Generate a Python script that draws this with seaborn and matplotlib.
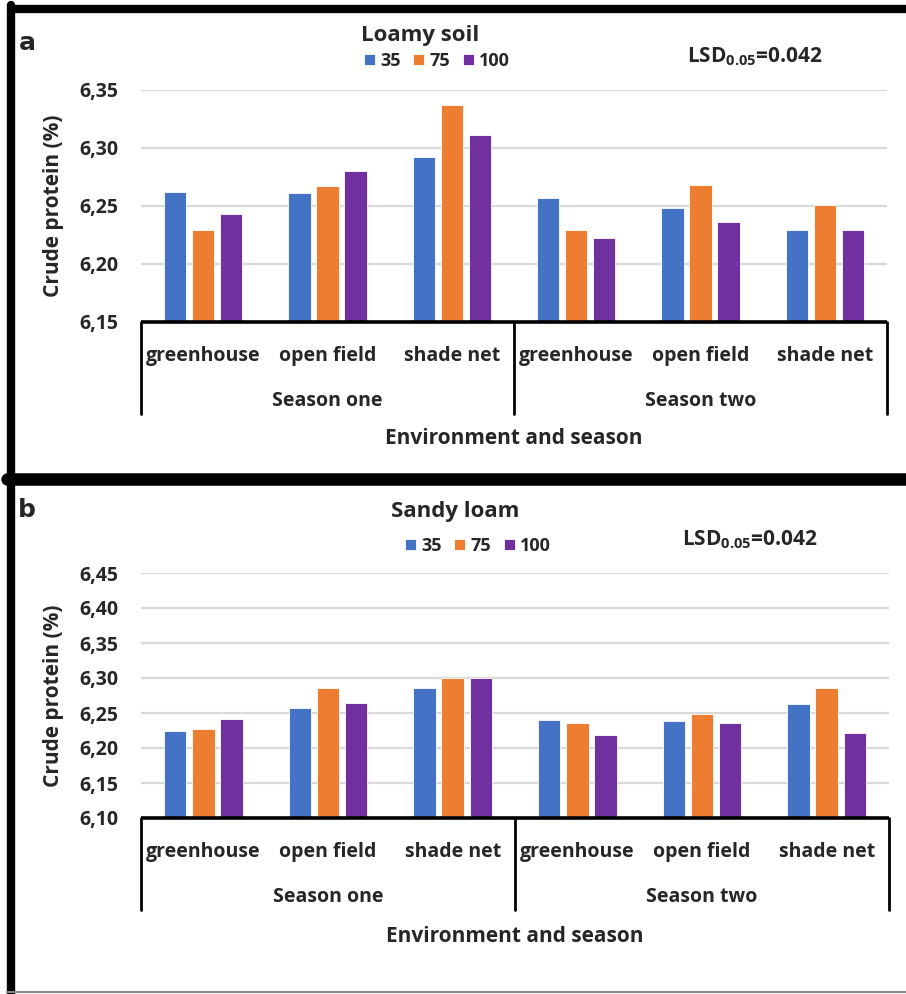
import matplotlib
matplotlib.use("Agg")
import matplotlib.pyplot as plt
from matplotlib import font_manager
from matplotlib.lines import Line2D
import seaborn as sns
import pandas as pd

# ---------------- data ----------------
environments = ["greenhouse", "open field", "shade net"]
seasons = ["Season one", "Season two"]
doses = ["35", "75", "100"]

loamy_35 = [6.262, 6.261, 6.292, 6.257, 6.248, 6.229]
loamy_75 = [6.229, 6.267, 6.337, 6.229, 6.268, 6.251]
loamy_100 = [6.243, 6.280, 6.311, 6.222, 6.236, 6.229]

sandy_35 = [6.224, 6.257, 6.286, 6.240, 6.239, 6.263]
sandy_75 = [6.227, 6.286, 6.300, 6.236, 6.248, 6.286]
sandy_100 = [6.242, 6.264, 6.300, 6.219, 6.236, 6.221]

loamy_ticks = [6.15, 6.20, 6.25, 6.30, 6.35]
sandy_ticks = [6.10, 6.15, 6.20, 6.25, 6.30, 6.35, 6.40, 6.45]

colors = ["#4472C4", "#ED7D31", "#7030A0"]

# ---------------- fonts ----------------
sns.set_style("white")
avail = {f.name for f in font_manager.fontManager.ttflist}
main_font = "Liberation Sans Narrow" if "Liberation Sans Narrow" in avail else "Open Sans"
plt.rcParams["font.family"] = [main_font, "DejaVu Sans"]
plt.rcParams["font.weight"] = "bold"
plt.rcParams["mathtext.fontset"] = "custom"
plt.rcParams["mathtext.rm"] = main_font
plt.rcParams["mathtext.bf"] = main_font + ":bold"

W, H = 906, 994
fig = plt.figure(figsize=(W / 100, H / 100), dpi=100)


def fx(px):
    return px / W


def fy(py):
    return 1 - py / H


def make_df(v35, v75, v100):
    rows = []
    keys = [f"{s}|{e}" for s in seasons for e in environments]
    for d, vals in zip(doses, [v35, v75, v100]):
        for k, v in zip(keys, vals):
            rows.append({"cat": k, "dose": d, "value": v})
    return pd.DataFrame(rows), keys


def draw_panel(ax, v35, v75, v100, ticks, title, title_xy, leg_xy, lsd_xy, env_pad):
    df, keys = make_df(v35, v75, v100)
    sns.barplot(data=df, x="cat", y="value", hue="dose", order=keys,
                hue_order=doses, palette=colors, saturation=1, width=0.676, gap=0.2,
                edgecolor="white", linewidth=0.6, ax=ax, legend=True)
    ax.set_ylim(ticks[0], ticks[-1])
    ax.set_xlim(-0.5, 5.5)
    ax.set_yticks(ticks)
    ax.set_yticklabels([f"{t:.2f}".replace(".", ",") for t in ticks],
                       fontsize=14, fontweight="bold")
    ax.tick_params(axis="y", length=0, pad=16)
    ax.yaxis.grid(True, color="#D9D9D9", linewidth=1.6)
    ax.set_axisbelow(True)
    for s in ["left", "right", "top", "bottom"]:
        ax.spines[s].set_visible(False)
    ax.set_xticks(range(6))
    ax.set_xticklabels([k.split("|")[1] for k in keys], fontsize=14, fontweight="bold")
    ax.tick_params(axis="x", length=0, pad=17)
    ax.set_ylabel("Crude protein (%)", fontsize=15, fontweight="bold", labelpad=11)
    ax.set_xlabel("Environment and season", fontsize=15, fontweight="bold", labelpad=env_pad)

    # multi-level category box
    tr = ax.transAxes
    ax.add_line(Line2D([0, 1], [0, 0], transform=tr, color="black", lw=2.6,
                       clip_on=False, solid_capstyle="butt"))
    depth = 92 / (ax.get_position().height * H)
    for xa in [0, 0.5, 1]:
        ax.add_line(Line2D([xa, xa], [0, -depth], transform=tr, color="black",
                           lw=2.0, clip_on=False))
    season_y = -79 / (ax.get_position().height * H)
    for i, s in enumerate(seasons):
        ax.text(0.25 + 0.5 * i, season_y, s, transform=tr, ha="center", va="center",
                fontsize=14, fontweight="bold")

    # legend
    handles, labels = ax.get_legend_handles_labels()
    ax.legend(handles, labels, ncol=3, frameon=False, loc="center",
              bbox_to_anchor=(fx(leg_xy[0]), fy(leg_xy[1])),
              bbox_transform=fig.transFigure, handlelength=0.6, handleheight=0.6,
              handletextpad=0.3, columnspacing=0.7,
              prop={"size": 13, "weight": "bold"})
    fig.text(fx(title_xy[0]), fy(title_xy[1]), title, ha="center", va="center",
             fontsize=16, fontweight="bold")
    fig.text(fx(lsd_xy[0]), fy(lsd_xy[1]), r"LSD$_{\mathbf{0.05}}$=0.042",
             ha="center", va="center", fontsize=15, fontweight="bold")


ax1 = fig.add_axes([fx(141), fy(322), fx(887) - fx(141), (322 - 90) / H])
ax2 = fig.add_axes([fx(141), fy(818), fx(889) - fx(141), (818 - 573) / H])

draw_panel(ax1, loamy_35, loamy_75, loamy_100, loamy_ticks, "Loamy soil",
           (420, 35), (437, 61), (755, 57), 45)
draw_panel(ax2, sandy_35, sandy_75, sandy_100, sandy_ticks, "Sandy loam",
           (455, 512), (478, 546), (750, 540), 46)

fig.text(fx(27), fy(43), "a", ha="center", va="center", fontsize=18, fontweight="bold",
         family="DejaVu Sans")
fig.text(fx(27), fy(510), "b", ha="center", va="center", fontsize=18, fontweight="bold",
         family="DejaVu Sans")

# panel borders
ft = fig.transFigure
fig.add_artist(Line2D([fx(11), 1.0], [fy(9), fy(9)], transform=ft, color="black", lw=6))
fig.add_artist(Line2D([fx(11), fx(11)], [fy(5), 0.0], transform=ft, color="black", lw=6))
fig.add_artist(Line2D([fx(7), 1.0], [fy(479), fy(479)], transform=ft, color="black", lw=9))
fig.add_artist(Line2D([fx(7), 1.0], [fy(992), fy(992)], transform=ft, color="#888888", lw=1.5))

fig.savefig("out.png", dpi=100)
